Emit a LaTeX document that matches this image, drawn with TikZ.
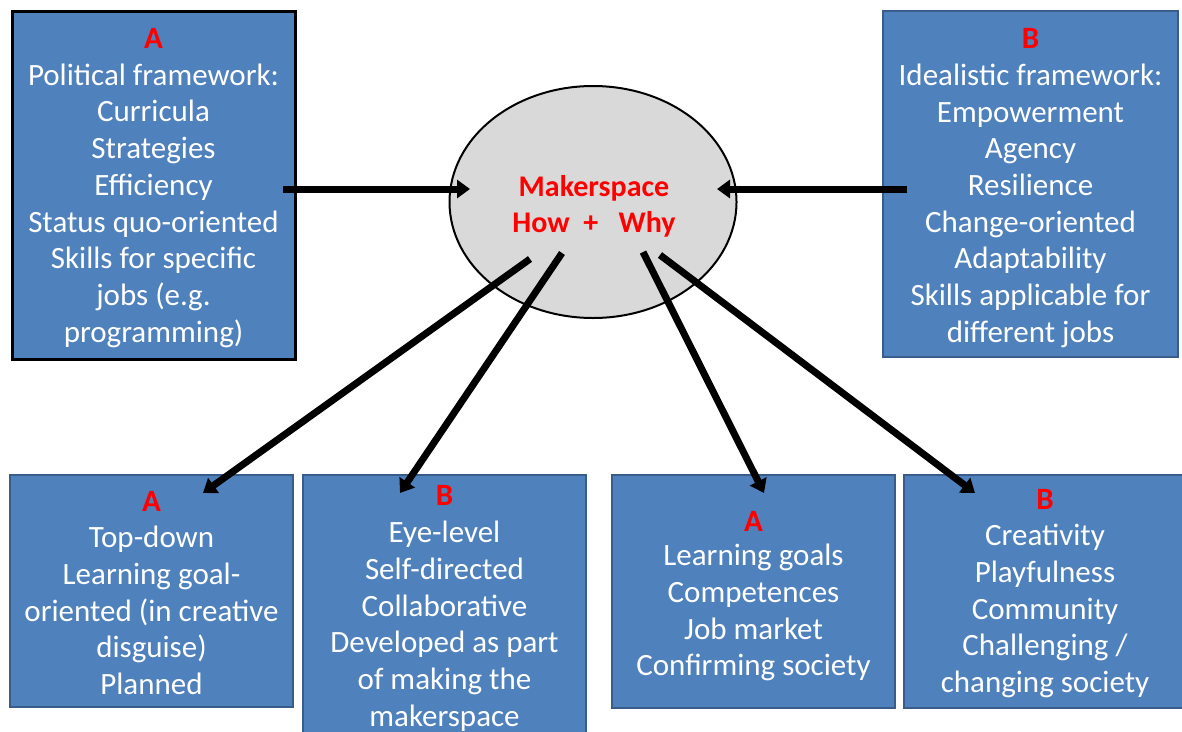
\documentclass[tikz,border=0pt]{standalone}
\usepackage{fontspec}
\setmainfont{Carlito}
\usetikzlibrary{arrows.meta,shapes.geometric}
\definecolor{boxblue}{HTML}{4F81BD}
\definecolor{boxedge}{HTML}{385D8A}
\definecolor{ellfill}{HTML}{D9D9D9}
\definecolor{lblred}{HTML}{FF0000}
\tikzset{
  bluebox/.style={rectangle, fill=boxblue, draw=boxedge, line width=2pt, inner sep=0pt},
  boxtext/.style={text=white, align=center, inner sep=0pt, font=\fontsize{31}{36.7}\selectfont},
  bigarrow/.style={line width=7pt, -{Triangle[length=13pt,width=18pt]}},
}
\newcommand{\tagA}{{\bfseries\color{lblred}A}}
\newcommand{\tagB}{{\bfseries\color{lblred}B}}
\begin{document}
\begin{tikzpicture}[x=1pt,y=-1pt]
\useasboundingbox (0,0) rectangle (1182,731);
% centre ellipse
\node[ellipse, fill=ellfill, draw=black, line width=2pt, minimum width=287pt, minimum height=232pt, inner sep=0pt] (ms) at (593,202) {};
\node[text=lblred, align=center, font=\fontsize{30}{36}\selectfont\bfseries] (mstext) at (594,206) {Makerspace\\How\ \ +\ \ \ Why};
% top boxes
\node[bluebox, draw=black, line width=3pt, minimum width=283pt, minimum height=348pt] (pol) at (153.5,185) {};
\node[boxtext] (poltext) at ([yshift=-3pt]pol.center)
  {\tagA\\Political framework:\\Curricula\\Strategies\\Efficiency\\Status quo-oriented\\Skills for specific\\jobs (e.g.\\programming)};
\node[bluebox, minimum width=295pt, minimum height=346pt] (ide) at (1030.5,184) {};
\node[boxtext] (idetext) at ([yshift=-4pt]ide.center)
  {\tagB\\Idealistic framework:\\Empowerment\\Agency\\Resilience\\Change-oriented\\Adaptability\\Skills applicable for\\different jobs};
% bottom boxes
\node[bluebox, minimum width=283pt, minimum height=232pt] (b1) at (151.5,591) {};
\node[boxtext] (b1text) at ([yshift=-2pt]b1.center)
  {\tagA\\Top-down\\Learning goal-\\oriented (in creative\\disguise)\\Planned};
\node[bluebox, minimum width=283pt, minimum height=265pt] (b2) at (444.5,607.5) {};
\node[boxtext] (b2text) at ([yshift=-1pt]b2.center)
  {\tagB\\Eye-level\\Self-directed\\Collaborative\\Developed as part\\of making the\\makerspace};
\node[bluebox, minimum width=283pt, minimum height=233pt] (b3) at (753.5,591.5) {};
\node[boxtext] (b3text) at ([yshift=-5pt]b3.center)
  {\tagA\\[-3pt]Learning goals\\Competences\\Job market\\Confirming society};
\node[bluebox, minimum width=282pt, minimum height=233pt] (b4) at (1045,591.5) {};
\node[boxtext] (b4text) at ([yshift=-2pt]b4.center)
  {\tagB\\Creativity\\Playfulness\\Community\\Challenging /\\changing society};
% arrow anchors
\coordinate (polout) at (283,189);
\coordinate (msL) at (470,189);
\coordinate (ideout) at (907,189);
\coordinate (msR) at (717,189);
\coordinate (s1) at (530,259);
\coordinate (s2) at (562,253);
\coordinate (s3) at (643,252);
\coordinate (s4) at (660,255);
\coordinate (t1) at (203,493);
\coordinate (t2) at (400,493);
\coordinate (t3) at (764,493);
\coordinate (t4) at (975,493);
\draw[bigarrow] (polout) -- (msL);
\draw[bigarrow] (ideout) -- (msR);
\draw[bigarrow] (s1) -- (t1);
\draw[bigarrow] (s2) -- (t2);
\draw[bigarrow] (s3) -- (t3);
\draw[bigarrow] (s4) -- (t4);
\end{tikzpicture}
\end{document}
